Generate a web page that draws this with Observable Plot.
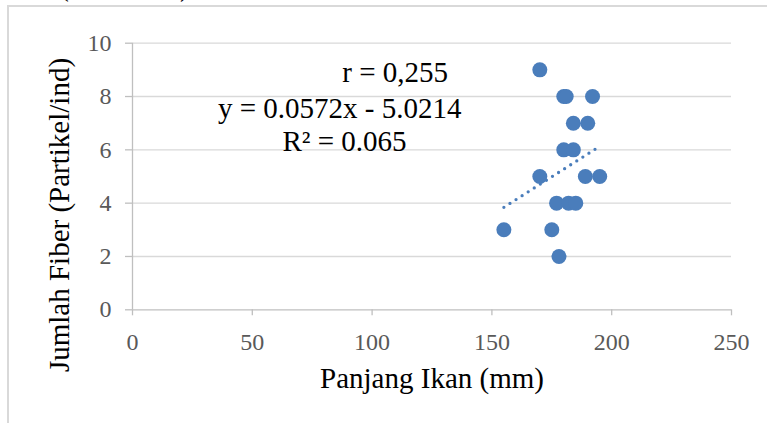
<!DOCTYPE html>
<html>
<head>
<meta charset="utf-8">
<script src="https://cdn.jsdelivr.net/npm/d3@7"></script>
<script src="https://cdn.jsdelivr.net/npm/@observablehq/plot@0.6"></script>
<style>
  html, body { margin: 0; padding: 0; background: #fff; overflow: hidden; }
  #wrap { position: relative; width: 767px; height: 423px; overflow: hidden; background: #fff; }
  #frame { position: absolute; left: 7px; top: 5px; width: 800px; height: 500px;
           border-left: 2px solid #d9d9d9; border-top: 2px solid #d9d9d9; pointer-events: none; }
  #cut { position: absolute; left: 12px; top: -27px; font-family: "Liberation Serif", serif;
         font-size: 28px; line-height: 28px; color: #000; white-space: nowrap; }
  #chart { position: absolute; left: 0; top: 0; }
</style>
</head>
<body>
<div id="wrap">
  <div id="cut">dan (Gambar 3).</div>
  <div id="chart"></div>
  <div id="frame"></div>
</div>
<script>
// Data
const panjangIkan = [170, 180, 181, 192, 184, 190, 180, 184, 170, 189, 195, 177, 182, 185, 155, 175, 178];
const jumlahFiber = [9, 8, 8, 8, 7, 7, 6, 6, 5, 5, 5, 4, 4, 4, 3, 3, 2];
const trendX = [155, 195];
const trendY = [3.845, 6.133];
const xTicks = [0, 50, 100, 150, 200, 250];
const yTicks = [0, 2, 4, 6, 8, 10];
const annotations = ["r = 0,255", "y = 0.0572x - 5.0214", "R\u00B2 = 0.065"];
const xTitle = "Panjang Ikan (mm)";
const yTitle = "Jumlah Fiber (Partikel/ind)";

const points = panjangIkan.map((x, i) => ({x, y: jumlahFiber[i]}));
const trend = trendX.map((x, i) => ({x, y: trendY[i]}));

const serif = "'Liberation Serif', 'Times New Roman', serif";
const blue = "#4a7dbb";

const plot = Plot.plot({
  width: 767,
  height: 423,
  marginLeft: 132,
  marginRight: 36,
  marginTop: 42.7,
  marginBottom: 113.7,
  style: {fontFamily: serif, background: "transparent", overflow: "visible"},
  x: {domain: [0, 250]},
  y: {domain: [0, 10]},
  marks: [
    Plot.ruleY(yTicks.filter(d => d !== 0), {stroke: "#d9d9d9", strokeWidth: 1.3}),
    Plot.ruleY([0], {stroke: "#bfbfbf", strokeWidth: 1.3}),
    Plot.ruleX([0], {y1: 0, y2: 10, stroke: "#bfbfbf", strokeWidth: 1.3}),
    Plot.axisY({ticks: yTicks, tickSize: 7, tickPadding: 14, stroke: "#bfbfbf", strokeWidth: 1.3,
                fill: "#595959", fontSize: 24, fontFamily: serif, label: null}),
    Plot.axisX({ticks: xTicks, tickSize: 6, tickPadding: 17, stroke: "#bfbfbf", strokeWidth: 1.3,
                fill: "#595959", fontSize: 24, fontFamily: serif, label: null}),
    Plot.line(trend, {x: "x", y: "y", stroke: blue, strokeWidth: 3.3,
                      strokeDasharray: "0 7.2", strokeLinecap: "round"}),
    Plot.dot(points, {x: "x", y: "y", r: 7.5, fill: blue, stroke: "none"}),
    Plot.text(annotations, {
      x: [109.6, 86.5, 88.5], y: [8.875, 7.56, 6.29], text: d => d,
      fontSize: 29, fontFamily: serif, fill: "#000", lineAnchor: "middle"
    }),
    Plot.text([xTitle], {frameAnchor: "bottom", dy: 69, text: d => d,
      fontSize: 29, fontFamily: serif, fill: "#000", lineAnchor: "middle"}),
    Plot.text([yTitle], {x: [-30.5], y: [3.556], rotate: -90, text: d => d,
      fontSize: 29, fontFamily: serif, fill: "#000", lineAnchor: "middle"})
  ]
});
document.getElementById("chart").appendChild(plot);
</script>
</body>
</html>
